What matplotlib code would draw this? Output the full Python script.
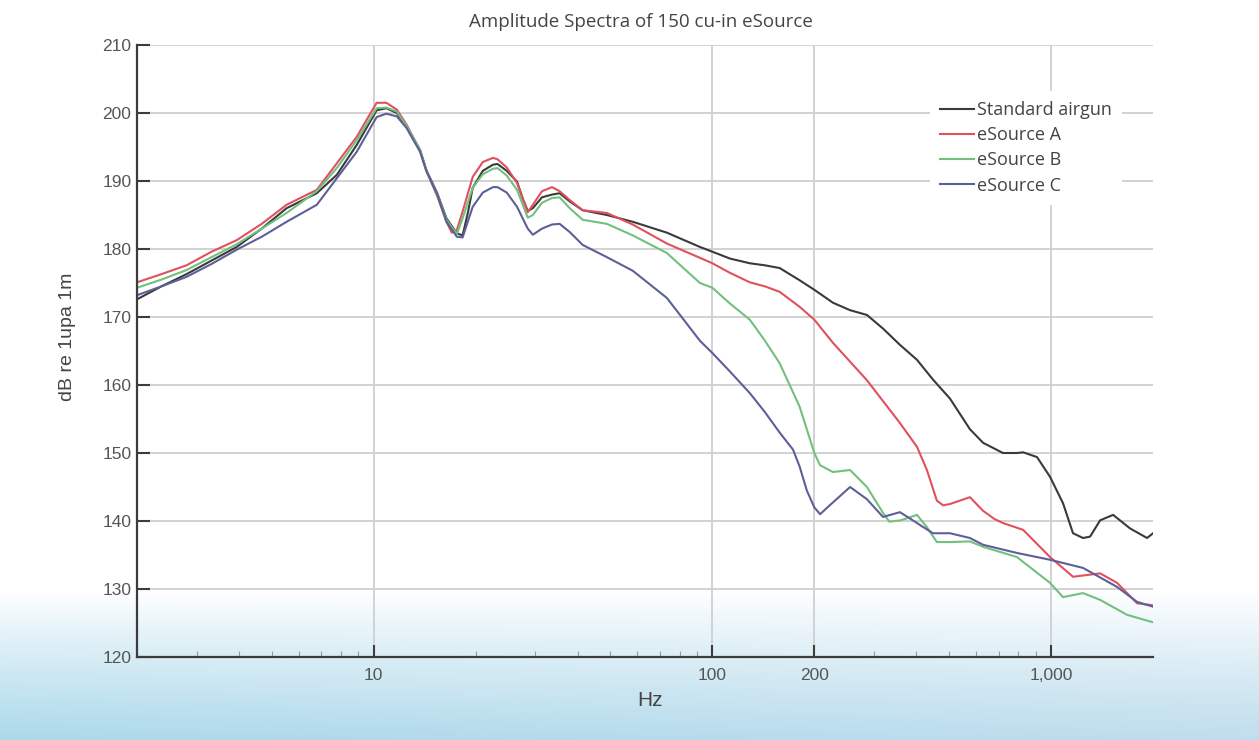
import numpy as np
import matplotlib
matplotlib.use("Agg")
import matplotlib.pyplot as plt
from matplotlib.ticker import FixedLocator, FixedFormatter, NullFormatter
from matplotlib.colors import to_rgb

# ---------------- data ----------------
title = "Amplitude Spectra of 150 cu-in eSource"
xlabel = "Hz"
ylabel = "dB re 1upa 1m"
series_names = ["Standard airgun", "eSource A", "eSource B", "eSource C"]

freq_std = [2.0, 2.36, 2.8, 3.32, 3.94, 4.67, 5.53, 6.79, 7.78, 8.91, 10.2, 10.9, 11.7, 12.5,
            13.7, 14.3, 15.4, 16.4, 17.6, 18.3, 19.0, 19.6, 21.0, 22.5, 23.2, 24.7, 26.5, 27.5,
            28.5, 29.5, 31.4, 33.6, 35.4, 37.9, 41.4, 48.8, 58.2, 73.4, 91.9, 100, 112.6, 129,
            143, 158, 181, 200, 227, 255, 286, 319, 358, 402, 448, 503, 576, 630, 721, 793, 827,
            909, 993, 1085, 1161, 1243, 1304, 1396, 1525, 1712, 1921, 2001]
db_std = [172.6, 174.5, 176.3, 178.3, 180.3, 183.0, 186.0, 188.2, 190.9, 195.3, 200.4, 200.7, 200.0, 198.0,
          194.6, 191.6, 188.2, 184.5, 182.3, 182.0, 185.5, 189.0, 191.5, 192.4, 192.5, 191.5, 189.9, 187.5,
          185.6, 186.0, 187.6, 188.0, 188.2, 187.0, 185.7, 185.0, 184.0, 182.4, 180.3, 179.6, 178.6, 177.9,
          177.6, 177.2, 175.4, 174.0, 172.1, 171.0, 170.3, 168.3, 165.9, 163.7, 160.8, 158.0, 153.5, 151.5,
          150.0, 150.0, 150.1, 149.4, 146.5, 142.6, 138.2, 137.5, 137.7, 140.1, 140.9, 138.9, 137.5, 138.2]

freq_a = [2.0, 2.36, 2.8, 3.32, 3.94, 4.67, 5.53, 6.79, 7.78, 8.91, 10.2, 10.9, 11.7, 12.5,
          13.7, 14.3, 15.4, 16.4, 17.0, 17.6, 18.3, 19.6, 21.0, 22.5, 23.2, 24.7, 26.5, 28.5,
          29.5, 31.4, 33.6, 35.4, 37.9, 41.4, 48.8, 58.2, 73.4, 91.9, 100, 112.6, 129, 143,
          158, 181, 200, 227, 286, 358, 402, 430, 460, 480, 503, 576, 630, 680, 721, 827,
          993, 1161, 1396, 1567, 1795, 2001]
db_a = [175.1, 176.3, 177.6, 179.6, 181.3, 183.7, 186.5, 188.7, 192.6, 196.5, 201.5, 201.5, 200.5, 198.3,
        194.5, 191.5, 187.8, 184.0, 182.4, 182.8, 185.5, 190.6, 192.8, 193.4, 193.2, 192.0, 189.7, 185.4,
        186.5, 188.5, 189.1, 188.5, 187.2, 185.7, 185.3, 183.6, 180.8, 178.7, 177.9, 176.5, 175.1, 174.5,
        173.7, 171.5, 169.6, 166.2, 160.7, 154.4, 150.9, 147.5, 143.0, 142.3, 142.5, 143.5, 141.5, 140.3,
        139.7, 138.7, 134.7, 131.8, 132.3, 130.9, 127.9, 127.6]

freq_b = [2.0, 2.36, 2.8, 3.32, 3.94, 4.67, 5.53, 6.79, 7.78, 8.91, 10.2, 10.9, 11.7, 12.5,
          13.7, 14.3, 15.4, 16.4, 17.6, 18.3, 19.6, 21.0, 22.5, 23.2, 24.7, 26.5, 28.5, 29.5,
          31.4, 33.6, 35.4, 37.9, 41.4, 48.8, 58.2, 73.4, 91.9, 100, 112.6, 129, 143, 158,
          181, 200, 208, 227, 255, 286, 319, 333, 360, 402, 430, 460, 503, 576, 630, 793, 993,
          1085, 1243, 1396, 1677, 2001]
db_b = [174.3, 175.5, 176.9, 178.8, 180.7, 183.0, 185.3, 188.5, 191.9, 196.0, 200.7, 200.8, 200.2, 198.1,
        194.6, 191.6, 188.0, 184.3, 182.2, 184.5, 189.0, 191.0, 191.8, 191.9, 190.8, 188.7, 184.6, 185.0,
        186.8, 187.5, 187.6, 186.0, 184.3, 183.7, 182.0, 179.4, 175.0, 174.3, 172.0, 169.6, 166.5, 163.2,
        156.8, 150.0, 148.2, 147.2, 147.5, 145.0, 141.2, 139.9, 140.1, 140.9, 139.1, 136.9, 136.9, 137.0,
        136.2, 134.7, 130.9, 128.8, 129.4, 128.4, 126.2, 125.1]

freq_c = [2.0, 2.36, 2.8, 3.32, 3.94, 4.67, 5.53, 6.79, 7.78, 8.91, 10.2, 10.9, 11.7, 12.5,
          13.7, 14.3, 15.4, 16.4, 17.6, 18.3, 19.6, 21.0, 22.5, 23.2, 24.7, 26.5, 28.5, 29.5,
          31.4, 33.6, 35.4, 37.9, 41.4, 48.8, 58.2, 73.4, 91.9, 100, 112.6, 129, 143, 158,
          173, 181, 190, 200, 208, 222, 255, 286, 319, 358, 402, 448, 503, 576, 630, 793, 993,
          1243, 1567, 1795, 2001]
db_c = [173.2, 174.5, 175.9, 177.8, 179.9, 181.8, 184.0, 186.5, 190.4, 194.3, 199.4, 199.9, 199.5, 197.8,
        194.3, 191.5, 188.0, 184.0, 181.8, 181.7, 186.2, 188.3, 189.1, 189.1, 188.3, 186.2, 183.0, 182.1,
        183.0, 183.6, 183.7, 182.5, 180.6, 178.8, 176.8, 172.8, 166.5, 164.7, 162.0, 158.8, 156.0, 153.0,
        150.5, 148.0, 144.5, 142.0, 141.0, 142.3, 145.0, 143.2, 140.6, 141.3, 139.7, 138.2, 138.2, 137.5,
        136.5, 135.3, 134.3, 133.1, 130.3, 128.1, 127.4]

xtick_vals = [10, 100, 200, 1000]
xtick_labels = ["10", "100", "200", "1,000"]
ytick_vals = [120, 130, 140, 150, 160, 170, 180, 190, 200, 210]

colors = ["#3a3a3a", "#e0505e", "#72c07e", "#5c5f99"]

# ---------------- figure ----------------
W, H = 1259, 740
fig = plt.figure(figsize=(W / 100, H / 100), dpi=100)

# background gradient (white top, light sky-blue bottom)
bg = fig.add_axes([0, 0, 1, 1], zorder=-10)
bg.set_axis_off()
yy = np.linspace(0, 1, H)[:, None]          # 0 top -> 1 bottom
xx = np.linspace(0, 1, W)[None, :]
t = np.clip((yy * H - 592) / (740 - 592), 0, 1) ** 0.9
top = np.array(to_rgb("#ffffff"))
bot_left = np.array([0.67, 0.85, 0.92])
bot_right = np.array([0.75, 0.87, 0.93])
bot = bot_left[None, None, :] * (1 - xx[..., None]) + bot_right[None, None, :] * xx[..., None]
img = top[None, None, :] * (1 - t[..., None]) + bot * t[..., None]
bg.imshow(img, aspect="auto", extent=[0, 1, 0, 1], origin="upper")
bg.set_xlim(0, 1)
bg.set_ylim(0, 1)

ax = fig.add_axes([137 / W, 1 - 657 / H, (1153 - 137) / W, (657 - 45) / H])
ax.set_facecolor("none")

data = [(freq_std, db_std), (freq_a, db_a), (freq_b, db_b), (freq_c, db_c)]
for (f, d), name, c in zip(data, series_names, colors):
    ax.plot(f, d, color=c, lw=1.5, label=name, solid_joinstyle="round")

ax.set_xscale("log")
ax.set_xlim(2.0, 2000)
ax.set_ylim(120, 210)

ax.xaxis.set_major_locator(FixedLocator(xtick_vals))
ax.xaxis.set_major_formatter(FixedFormatter(xtick_labels))
minors = [v * 10 ** k for k in range(0, 3) for v in range(2, 10)]
minors = [m for m in minors if m not in xtick_vals]
ax.xaxis.set_minor_locator(FixedLocator(minors))
ax.xaxis.set_minor_formatter(NullFormatter())
ax.set_yticks(ytick_vals)

ax.grid(True, which="major", color="#cfcfcf", lw=1.3)
ax.set_axisbelow(True)
for s in ["top", "right"]:
    ax.spines[s].set_visible(False)
for s in ["left", "bottom"]:
    ax.spines[s].set_color("#3c3c3c")
    ax.spines[s].set_linewidth(1.6)

ax.tick_params(axis="both", which="major", direction="in", length=9, width=1.5,
               color="#3c3c3c", labelcolor="#555555", labelsize=12.5)
ax.tick_params(axis="y", which="major", pad=4)
ax.tick_params(axis="x", which="major", pad=8)
ax.tick_params(axis="x", which="minor", direction="in", length=4, width=0.8, color="#9a9a9a")
for lab in ax.get_xticklabels() + ax.get_yticklabels():
    lab.set_family("Liberation Sans")

ax.set_xlabel(xlabel, family="Liberation Sans", fontsize=15, color="#444444", labelpad=9)
ax.xaxis.set_label_coords((650 - 137) / 1016, -0.055)
ax.set_ylabel(ylabel, family="Liberation Sans", fontsize=14, color="#444444")
ax.yaxis.set_label_coords(-(137 - 76) / 1016, (657 - 337) / 612)
fig.text(641 / W, 1 - 22 / H, title, family="Open Sans", fontsize=13.5, color="#444444",
         ha="center", va="center")

leg = ax.legend(loc="upper left", bbox_to_anchor=(930 / W, 1 - 91 / H),
                bbox_transform=fig.transFigure, frameon=True, fancybox=False,
                facecolor="white", edgecolor="none", framealpha=1,
                prop=dict(family="Open Sans", size=13), handlelength=1.9,
                handletextpad=0.15, labelspacing=0.40, borderpad=0.55, borderaxespad=0)
for t_ in leg.get_texts():
    t_.set_color("#444444")

fig.savefig("out.png", dpi=100)
